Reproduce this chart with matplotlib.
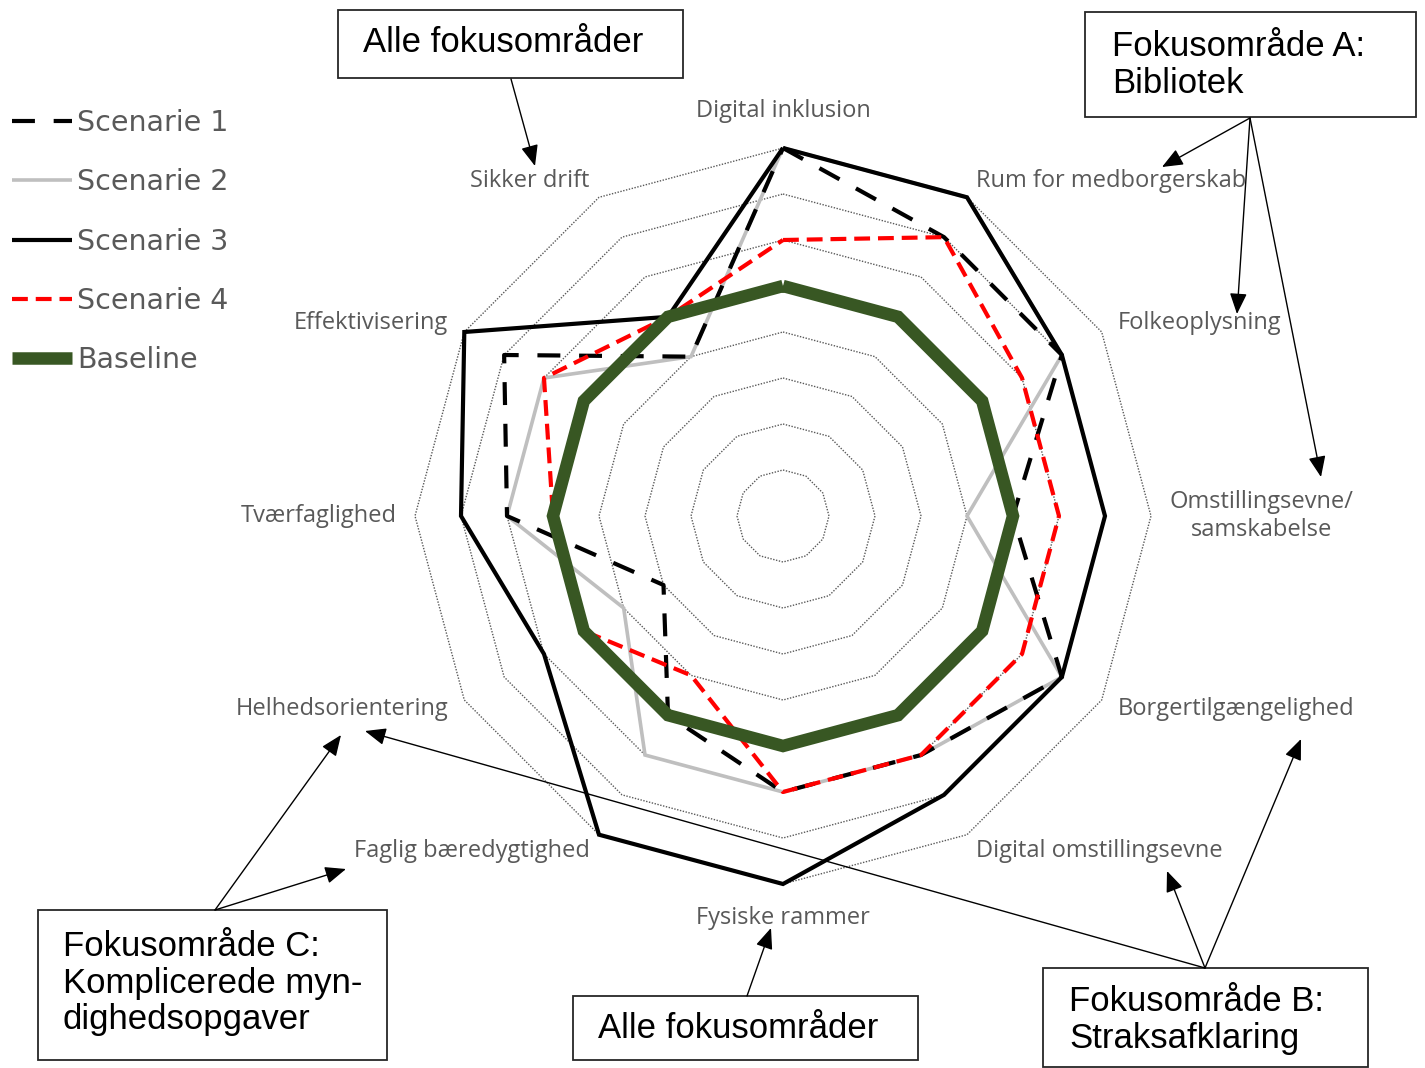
import numpy as np
import matplotlib
matplotlib.use("Agg")
import matplotlib.pyplot as plt
from matplotlib.lines import Line2D
from matplotlib.patches import Rectangle

# ---------------- data ----------------
categories = ["Digital inklusion", "Rum for medborgerskab", "Folkeoplysning",
              "Omstillingsevne/\nsamskabelse", "Borgertilgængelighed",
              "Digital omstillingsevne", "Fysiske rammer", "Faglig bæredygtighed",
              "Helhedsorientering", "Tværfaglighed", "Effektivisering", "Sikker drift"]
scenarie_1 = [8, 7, 7, 5, 7, 6, 6, 5, 3, 6, 7, 4]
scenarie_2 = [8, 8, 7, 4, 7, 6, 6, 6, 4, 6, 6, 4]
scenarie_3 = [8, 8, 7, 7, 7, 7, 8, 8, 6, 7, 8, 5]
scenarie_4 = [6, 7, 6, 6, 6, 6, 6, 4, 5, 5, 6, 5]
baseline = [5, 5, 5, 5, 5, 5, 5, 5, 5, 5, 5, 5]
grid_levels = [1, 2, 3, 4, 5, 6, 7, 8]
series_names = ["Scenarie 1", "Scenarie 2", "Scenarie 3", "Scenarie 4", "Baseline"]

# ---------------- layout ----------------
W, H = 1425, 1068
CX, CY, UNIT = 783, 516, 46.0

fig = plt.figure(figsize=(W / 100, H / 100), dpi=100)
fig.patch.set_facecolor("white")
ax = fig.add_axes([0, 0, 1, 1])
ax.set_xlim(-CX / UNIT, (W - CX) / UNIT)
ax.set_ylim(-(H - CY) / UNIT, CY / UNIT)
ax.axis("off")

n = len(categories)
angles = np.pi / 2 - np.arange(n) * 2 * np.pi / n


def closed_xy(vals):
    v = np.append(np.asarray(vals, float), vals[0])
    a = np.append(angles, angles[0])
    return v * np.cos(a), v * np.sin(a)


# grid
for lv in grid_levels:
    gx, gy = closed_xy([lv] * n)
    ax.plot(gx, gy, color="#595959", lw=1.0, linestyle=(0, (1, 1.1)), zorder=1)

styles = [
    dict(color="black", lw=3.0, linestyle=(0, (5.5, 4.5)), dash_capstyle="butt"),
    dict(color="#bfbfbf", lw=2.6, linestyle="-"),
    dict(color="black", lw=3.0, linestyle="-"),
    dict(color="#ff0000", lw=3.0, linestyle=(0, (3.8, 1.9)), dash_capstyle="butt"),
    dict(color="#385723", lw=9.0, linestyle="-"),
]
z_order = [4, 3, 5, 6, 7]
all_series = [scenarie_1, scenarie_2, scenarie_3, scenarie_4, baseline]
for vals, st, z in zip(all_series, styles, z_order):
    sx, sy = closed_xy(vals)
    ax.plot(sx, sy, solid_joinstyle="miter", solid_capstyle="butt", zorder=z, **st)

# category labels
for i, lab in enumerate(categories):
    c, s = np.cos(angles[i]), np.sin(angles[i])
    if abs(c) < 0.01:
        r = 8.8 if s > 0 else 8.74
        ha = "center"
    else:
        r = 8.4
        ha = "left" if c > 0 else "right"
    ax.text(r * c, r * s, lab, ha=ha, va="center", multialignment="center",
            fontsize=17, family="Open Sans", color="#595959", zorder=10)

# legend
handles = [Line2D([], [], solid_capstyle="butt", **st) for st in styles]
fig.legend(handles, series_names, loc="upper left",
           bbox_to_anchor=(12 / W, 1 - 109 / H), frameon=False,
           prop=dict(family="DejaVu Sans", size=20.5), labelcolor="#595959",
           handlelength=2.1, handletextpad=0.2, labelspacing=1.1,
           borderaxespad=0, borderpad=0)

# ---------------- annotations (pixel coordinates) ----------------
ann = fig.add_axes([0, 0, 1, 1], zorder=20)
ann.set_xlim(0, W)
ann.set_ylim(H, 0)
ann.axis("off")
ann.patch.set_alpha(0)

boxes = [
    ((338, 10, 345, 68), "Alle fokusområder", (363, 43)),
    ((1085, 12, 331, 105), "Fokusområde A:\nBibliotek", (1112, 65)),
    ((38, 910, 349, 150), "Fokusområde C:\nKomplicerede myn-\ndighedsopgaver", (63, 983)),
    ((573, 996, 345, 64), "Alle fokusområder", (598, 1028)),
    ((1043, 968, 325, 99), "Fokusområde B:\nStraksafklaring", (1069, 1020)),
]
for (x0, y0, w, h), txt, (tx, ty) in boxes:
    ann.add_patch(Rectangle((x0, y0), w, h, facecolor="white", edgecolor="#262626", lw=1.3))
    ann.text(tx, ty, txt, ha="left", va="center", fontsize=25,
             family="Liberation Sans", color="black", linespacing=1.15)

arrows = [
    ((511, 79), (535, 166)),
    ((1250, 118), (1162, 167)),
    ((1250, 118), (1237, 314)),
    ((1250, 118), (1321, 477)),
    ((215, 910), (341, 735)),
    ((215, 910), (346, 869)),
    ((747, 996), (771, 928)),
    ((1205, 968), (1167, 871)),
    ((1205, 968), (1301, 739)),
    ((1205, 968), (365, 731)),
]
for src, tip in arrows:
    ann.annotate("", xy=tip, xytext=src,
                 arrowprops=dict(arrowstyle="-|>,head_length=0.8,head_width=0.33",
                                 color="black", lw=1.0, mutation_scale=16,
                                 shrinkA=0, shrinkB=0))

fig.savefig("out.png", dpi=100)
